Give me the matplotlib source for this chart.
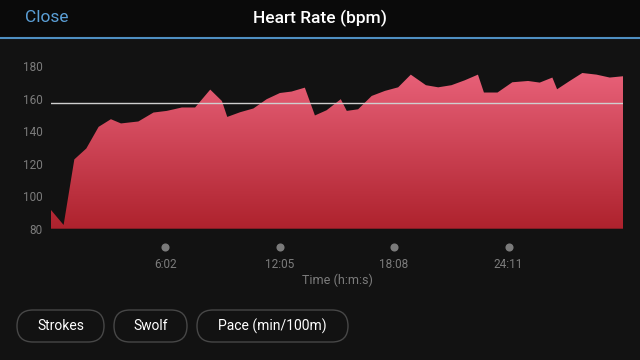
import numpy as np
import matplotlib
matplotlib.use('Agg')
import matplotlib.pyplot as plt
from matplotlib.colors import LinearSegmentedColormap
from matplotlib.patches import FancyBboxPatch, Rectangle
from matplotlib.transforms import blended_transform_factory

plt.rcParams['font.family'] = ['Roboto', 'DejaVu Sans']

# elapsed time (s) and heart rate (bpm)
time_s = [0, 40, 74, 112, 151, 190, 222, 277, 325, 367, 415, 457, 505, 542, 559,
          600, 642, 684, 726, 763, 805, 837, 874, 919, 938, 974, 1017, 1059, 1101,
          1141, 1189, 1228, 1270, 1312, 1354, 1373, 1416, 1463, 1513, 1550, 1590,
          1605, 1645, 1685, 1730, 1772, 1814]
heart_rate = [91.5, 82.3, 122.6, 129.3, 142.6, 147.3, 144.7, 145.9, 151.4, 152.4,
              154.5, 154.5, 165.5, 158.5, 148.7, 151.6, 153.9, 159.6, 163.4, 164.3,
              166.7, 149.6, 152.8, 159.6, 152.4, 153.4, 161.6, 164.7, 166.9, 174.7,
              168.2, 166.9, 168.2, 171.2, 174.7, 163.7, 163.7, 170.0, 170.8, 169.8,
              172.9, 165.7, 170.8, 175.7, 174.7, 172.9, 173.7]
avg_hr = 157.5
tick_pos = [362, 725, 1088, 1451]
tick_lbl = ['6:02', '12:05', '18:08', '24:11']
y_ticks = [80, 100, 120, 140, 160, 180]
buttons = ['Strokes', 'Swolf', 'Pace (min/100m)']

W, H = 640, 360
fig = plt.figure(figsize=(6.4, 3.6), dpi=100)
fig.patch.set_facecolor('#121212')

def fx(px):
    return px / W

def fy(py):
    return 1 - py / H

# header bar
fig.patches.append(Rectangle((0, fy(37)), 1, 37 / H, transform=fig.transFigure,
                             facecolor='#0a0a0a', edgecolor='none', zorder=0))
fig.lines.append(plt.Line2D([0, 1], [fy(37.5), fy(37.5)], transform=fig.transFigure,
                            color='#4f8fc2', lw=1.5))
fig.text(fx(47), fy(18), 'Close', color='#5b9fd6', fontsize=12.5,
         ha='center', va='center')
fig.text(fx(320), fy(18), 'Heart Rate (bpm)', color='white', fontsize=12.5,
         fontweight='medium', ha='center', va='center')

# chart
ax = fig.add_axes([fx(51), fy(228.7), fx(623) - fx(51), (228.7 - 66) / H])
ax.set_facecolor('#121212')
ax.set_xlim(0, 1814)
ax.set_ylim(80, 180)
for s in ax.spines.values():
    s.set_visible(False)

poly = ax.fill_between(time_s, heart_rate, 80, facecolor='none', edgecolor='none')
cmap = LinearSegmentedColormap.from_list('hr', ['#ae222d', '#e9627a'])
grad = np.linspace(0, 1, 256).reshape(-1, 1)
img = ax.imshow(grad, extent=[0, 1814, 80, 178], origin='lower', aspect='auto',
                cmap=cmap, zorder=1)
img.set_clip_path(poly.get_paths()[0], transform=ax.transData)

ax.axhline(avg_hr, color='#cfcfcf', lw=1, zorder=3)

ax.set_yticks(y_ticks)
ax.set_yticklabels([str(v) for v in y_ticks])
ax.tick_params(axis='y', length=0, pad=6, labelsize=8.5, labelcolor='#7c7c7c')
ax.set_xticks(tick_pos)
ax.set_xticklabels(tick_lbl)
ax.tick_params(axis='x', length=0, pad=21, labelsize=8.5, labelcolor='#7c7c7c')

trans = blended_transform_factory(ax.transData, fig.transFigure)
ax.scatter(tick_pos, [fy(247.3)] * len(tick_pos), s=34, color='#7a7a7a',
           linewidths=0, transform=trans, clip_on=False, zorder=4)
fig.text(fx(337), fy(280), 'Time (h:m:s)', color='#7c7c7c', fontsize=9,
         ha='center', va='center')

# buttons at the bottom (pill shapes, drawn in inches)
btn_x = [(17, 104), (114, 187), (197, 348)]
for (x0, x1), name in zip(btn_x, buttons):
    box = FancyBboxPatch((x0 / 100, (H - 342) / 100), (x1 - x0) / 100, 0.32,
                         boxstyle='round,pad=0,rounding_size=0.16',
                         transform=fig.dpi_scale_trans, facecolor='#121212',
                         edgecolor='#474747', lw=1)
    fig.patches.append(box)
    fig.text(fx((x0 + x1) / 2), fy(326), name, color='white', fontsize=10,
             ha='center', va='center')

fig.savefig('out.png', dpi=100, facecolor=fig.get_facecolor())
